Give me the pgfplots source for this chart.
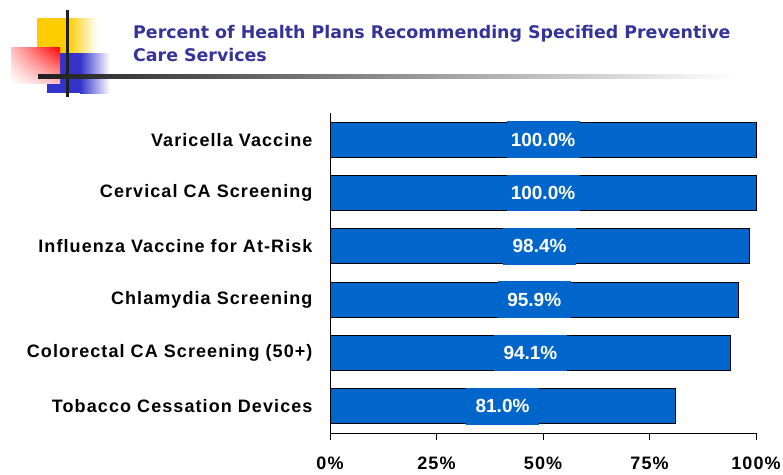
\documentclass[border=0pt]{standalone}
\usepackage{fontspec}
\setmainfont{Liberation Sans}
\newfontfamily\titlefont{DejaVu Sans}
\newfontfamily\labfont[LetterSpace=6]{Liberation Sans}
\usepackage{pgfplots}
\pgfplotsset{compat=1.18}
\usepackage{pgfplotstable}
\usetikzlibrary{shadings}
\definecolor{barblue}{HTML}{0066CC}
\definecolor{titleblue}{HTML}{333399}
\definecolor{yel}{HTML}{FFCC00}
\definecolor{dblue}{HTML}{3333CC}
\definecolor{rred}{HTML}{FF0000}
\pgfplotstableread{
idx value
0 81.0
1 94.1
2 95.9
3 98.4
4 100.0
5 100.0
}\datatable
\begin{document}
\begin{tikzpicture}
\path[use as bounding box] (0pt,0pt) rectangle (783pt,-474pt);
% decoration
\fill[yel] (37pt,-18pt) rectangle (68.5pt,-53pt);
\shade[left color=yel, right color=white] (68pt,-18pt) rectangle (97pt,-53pt);
\fill[dblue] (47pt,-53pt) rectangle (80.5pt,-93pt);
\shade[left color=dblue, right color=white] (80pt,-53pt) rectangle (110pt,-93pt);
\shade[upper right=rred, upper left=rred!25, lower right=rred!25, lower left=white] (11pt,-47pt) rectangle (60pt,-83pt);
\fill[black!88] (65.5pt,-10pt) rectangle (68.5pt,-97pt);
\shade[left color=black!88, right color=white] (38pt,-74pt) rectangle (735pt,-78pt);
% title
\node[anchor=base west, inner sep=0pt, text=titleblue, font=\titlefont\bfseries\fontsize{17.4}{20}\selectfont] at (133pt,-38pt) {Percent of Health Plans Recommending Specified Preventive};
\node[anchor=base west, inner sep=0pt, text=titleblue, font=\titlefont\bfseries\fontsize{17.4}{20}\selectfont] at (133pt,-61pt) {Care Services};
\begin{axis}[
  at={(330pt,-433pt)}, anchor=south west,
  scale only axis, width=426pt, height=320pt,
  xmin=0, xmax=100, ymin=-0.5, ymax=5.5,
  axis x line*=bottom, axis y line*=left,
  axis line style={black, line width=1pt},
  tick align=outside,
  /pgf/number format/assume math mode=true,
  xtick={0,25,50,75,100},
  xticklabels={0\%,25\%,50\%,75\%,100\%},
  ytick={0,1,2,3,4,5},
  yticklabels={Tobacco Cessation Devices,Colorectal CA Screening (50+),Chlamydia Screening,Influenza Vaccine for At-Risk,Cervical CA Screening,Varicella Vaccine},
  y tick style={draw=none},
  minor ytick={-0.5,0.5,1.5,2.5,3.5,4.5,5.5},
  minor y tick style={black, line width=1pt},
  x tick style={black, line width=1pt},
  major tick length=7pt, minor tick length=6pt,
  ticklabel style={font=\labfont\bfseries\fontsize{18}{20}\selectfont},
  xticklabel style={yshift=-13pt},
  yticklabel style={xshift=-7pt},
  clip=false,
]
\addplot[xbar, bar width=35pt, fill=barblue, draw=black, line width=0.8pt] table[x=value, y=idx] {\datatable};
\addplot[draw=none, mark=none, point meta=explicit,
  nodes near coords={\pgfmathprintnumber[fixed,fixed zerofill,precision=1,assume math mode=true]{\pgfplotspointmeta}\%},
  every node near coord/.append style={fill=barblue, text=white, anchor=center, inner sep=0pt, minimum width=73pt, minimum height=36.5pt, font=\bfseries\fontsize{19}{22}\selectfont}]
  table[x expr=\thisrow{value}/2, y=idx, meta=value] {\datatable};
\end{axis}
\end{tikzpicture}
\end{document}
